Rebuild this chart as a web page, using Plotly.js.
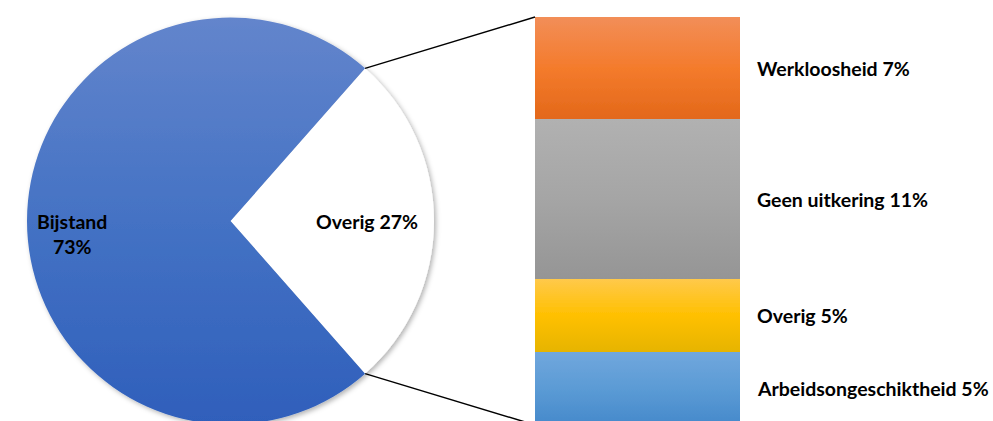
<!DOCTYPE html>
<html>
<head>
<meta charset="utf-8">
<script src="https://cdn.plot.ly/plotly-3.0.1.min.js"></script>
<style>
  html, body { margin: 0; padding: 0; background: #fff; overflow: hidden; }
  #chart { width: 993px; height: 430px; }
</style>
</head>
<body>
<div id="chart"></div>
<script>
// ---- data ----
const pieLabels = ['Overig', 'Bijstand'];
const pieValues = [27, 73];
const barLabels = ['Arbeidsongeschiktheid', 'Overig', 'Geen uitkering', 'Werkloosheid'];
const barValues = [5, 5, 11, 7];

// ---- geometry / style ----
const W = 993, H = 430;
const cx = 230.5, cy = 221, r = 203.5;
const barX0 = 535, barX1 = 740, barTop = 17, barBottom = 425;
const FONT = 'Lato, "Open Sans", sans-serif';
const FS = 19.5;

const pieColors = ['#ffffff', '#4472c4'];
const barColors = ['#5b9bd5', '#ffc000', '#a5a5a5', '#ed7d31'];
const grads = {
  g_pie0: ['#ffffff', '#ffffff', '#ffffff'],
  g_pie1: ['#6385cc', '#4472c4', '#2f5fbb'],
  g_bar0: ['#71a7dd', '#5b9bd5', '#4689cb'],
  g_bar1: ['#ffc94a', '#ffc000', '#e6b400'],
  g_bar2: ['#b1b1b1', '#a5a5a5', '#959595'],
  g_bar3: ['#f28e58', '#f47b2c', '#e3681a']
};

const px = x => x / W;
const py = y => (H - y) / H;

const traces = [{
  type: 'pie',
  labels: pieLabels,
  values: pieValues,
  sort: false,
  direction: 'clockwise',
  rotation: 90 - pieValues[0] / (pieValues[0] + pieValues[1]) * 180,
  marker: { colors: pieColors, line: { width: 0 } },
  textinfo: 'none',
  hoverinfo: 'none',
  showlegend: false,
  domain: { x: [px(cx - r), px(cx + r)], y: [py(cy + r), py(cy - r)] }
}];

barLabels.forEach((lab, i) => {
  traces.push({
    type: 'bar',
    x: [0],
    y: [barValues[i]],
    width: [1],
    name: lab,
    marker: { color: barColors[i], line: { width: 0 } },
    xaxis: 'x', yaxis: 'y',
    hoverinfo: 'none',
    showlegend: false
  });
});

const total = barValues.reduce((a, b) => a + b, 0);
const theta = pieValues[0] / (pieValues[0] + pieValues[1]) * Math.PI;
const ex = cx + r * Math.cos(theta), eyTop = cy - r * Math.sin(theta), eyBot = cy + r * Math.sin(theta);

const annotations = [];
let cum = 0;
barLabels.forEach((lab, i) => {
  annotations.push({
    xref: 'paper', yref: 'y', x: px(755), y: cum + barValues[i] / 2,
    xanchor: 'left', yanchor: 'middle', showarrow: false,
    text: lab + ' ' + barValues[i] + '%',
    font: { family: FONT, size: FS, color: '#000', weight: 700 }
  });
  cum += barValues[i];
});
annotations.push({
  xref: 'paper', yref: 'paper', x: px(cx - 0.78 * r), y: py(cy + 13),
  xanchor: 'center', yanchor: 'middle', showarrow: false,
  text: pieLabels[1] + '<br>' + pieValues[1] + '%',
  font: { family: FONT, size: FS, color: '#000', weight: 700 }
});
annotations.push({
  xref: 'paper', yref: 'paper', x: px(cx + 0.67 * r), y: py(cy),
  xanchor: 'center', yanchor: 'middle', showarrow: false,
  text: pieLabels[0] + ' ' + pieValues[0] + '%',
  font: { family: FONT, size: FS, color: '#000', weight: 700 }
});

const layout = {
  width: W, height: H,
  margin: { l: 0, r: 0, t: 0, b: 0 },
  paper_bgcolor: '#fff', plot_bgcolor: 'rgba(0,0,0,0)',
  barmode: 'stack',
  showlegend: false,
  xaxis: { domain: [px(barX0), px(barX1)], range: [-0.5, 0.5], visible: false, fixedrange: true },
  yaxis: { domain: [py(barBottom), py(barTop)], range: [0, total], visible: false, fixedrange: true },
  shapes: [
    { type: 'line', xref: 'paper', yref: 'paper', x0: px(ex), y0: py(eyTop), x1: px(barX0), y1: py(barTop), line: { color: '#000', width: 1.5 } },
    { type: 'line', xref: 'paper', yref: 'paper', x0: px(ex), y0: py(eyBot), x1: px(barX0), y1: py(barBottom), line: { color: '#000', width: 1.5 } }
  ],
  annotations: annotations
};

Plotly.newPlot('chart', traces, layout, { staticPlot: true, displayModeBar: false }).then(() => {
  const svg = document.querySelector('#chart svg.main-svg');
  const NS = 'http://www.w3.org/2000/svg';
  let defs = svg.querySelector('defs');
  if (!defs) { defs = document.createElementNS(NS, 'defs'); svg.insertBefore(defs, svg.firstChild); }
  Object.keys(grads).forEach(id => {
    const lg = document.createElementNS(NS, 'linearGradient');
    lg.setAttribute('id', id);
    lg.setAttribute('x1', '0'); lg.setAttribute('y1', '0');
    lg.setAttribute('x2', '0'); lg.setAttribute('y2', '1');
    grads[id].forEach((c, k) => {
      const st = document.createElementNS(NS, 'stop');
      st.setAttribute('offset', (k / 2 * 100) + '%');
      st.setAttribute('stop-color', c);
      lg.appendChild(st);
    });
    defs.appendChild(lg);
  });
  const f = document.createElementNS(NS, 'filter');
  f.setAttribute('id', 'shadow');
  f.setAttribute('x', '-10%'); f.setAttribute('y', '-10%');
  f.setAttribute('width', '120%'); f.setAttribute('height', '120%');
  const ds = document.createElementNS(NS, 'feDropShadow');
  ds.setAttribute('dx', '2'); ds.setAttribute('dy', '2');
  ds.setAttribute('stdDeviation', '2.5');
  ds.setAttribute('flood-color', '#000'); ds.setAttribute('flood-opacity', '0.3');
  f.appendChild(ds);
  defs.appendChild(f);

  const slices = document.querySelectorAll('#chart .pielayer .slice path.surface');
  slices.forEach((p, k) => {
    const d = p.parentNode.__data__;
    let idx = (d && typeof d.i === 'number') ? d.i : null;
    if (idx === null) {
      const fill = (p.style.fill || '').replace(/\s/g, '');
      idx = fill === 'rgb(255,255,255)' ? 0 : 1;
    }
    p.style.fill = 'url(#g_pie' + idx + ')';
  });
  const pieG = document.querySelector('#chart .pielayer .trace');
  if (pieG) pieG.setAttribute('filter', 'url(#shadow)');

  const barTraces = document.querySelectorAll('#chart .barlayer .trace');
  barTraces.forEach((t, i) => {
    t.querySelectorAll('path').forEach(p => { p.style.fill = 'url(#g_bar' + i + ')'; });
  });
  const bl = document.querySelector('#chart .barlayer');
  if (bl) bl.setAttribute('filter', 'url(#shadow)');
});
</script>
</body>
</html>
